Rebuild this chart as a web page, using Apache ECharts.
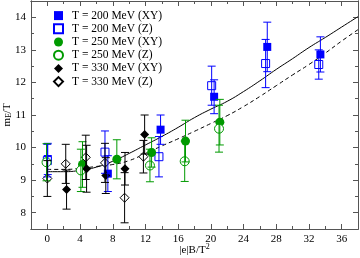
<!DOCTYPE html>
<html><head><meta charset="utf-8">
<script src="https://cdn.jsdelivr.net/npm/echarts@6/dist/echarts.min.js"></script>
<style>html,body{margin:0;padding:0;background:#fff}#c{width:360px;height:258px}</style>
</head><body><div id="c"></div>
<script>
// Data: [x = |e|B/T^2, y = m_E/T, error]
const t200XY = [[0.05,9.65,0.48],[7.4,9.2,0.55],[13.85,10.55,0.45],[20.4,11.56,0.52],[26.9,13.09,0.76],[33.4,12.86,0.54]];
const t200Z  = [[0.0,9.6,0.5],[7.05,9.86,0.65],[13.65,9.72,0.62],[20.1,11.9,0.6],[26.7,12.58,0.74],[33.2,12.55,0.45]];
const t250XY = [[4.3,9.48,0.7],[8.5,9.64,0.6],[12.75,9.85,0.45],[16.9,10.2,0.64],[21.1,10.78,0.7]];
const t250Z  = [[-0.1,9.55,0.57],[4.1,9.3,0.65],[12.55,9.45,0.5],[16.8,9.58,0.62],[21.0,10.58,0.72]];
const t330XY = [[2.35,8.71,0.6],[4.8,9.35,0.72],[7.15,9.14,0.55],[9.5,9.35,0.5],[11.9,10.4,0.6]];
const t330Z  = [[0.0,9.05,0.55],[2.25,9.5,0.6],[4.7,9.7,0.68],[7.05,9.53,0.6],[9.45,8.46,0.77],[11.75,9.72,0.5]];
// Fit curves
const curveX      = [0,2,4,6,8,10,12,14,16,18,20,22,24,26,28,30,32,34,36,38];
const solidCurveY = [9.26,9.26,9.3,9.4,9.58,9.82,10.08,10.34,10.62,10.92,11.18,11.42,11.72,12.05,12.4,12.73,13.07,13.38,13.7,14.02];
const dashCurveY  = [9.33,9.33,9.36,9.42,9.48,9.6,9.82,10.05,10.27,10.5,10.74,10.98,11.26,11.57,11.9,12.23,12.55,12.9,13.27,13.62];
// Ticks
const xTickLabels = [0,4,8,12,16,20,24,28,32,36];
const xMinorTicks = [2,6,10,14,18,22,26,30,34];
const yTickLabels = [8,9,10,11,12,13,14];
const yMinorTicks = [8.5,9.5,10.5,11.5,12.5,13.5];
const names = ['T = 200 MeV (XY)','T = 200 MeV (Z)','T = 250 MeV (XY)','T = 250 MeV (Z)','T = 330 MeV (XY)','T = 330 MeV (Z)'];

const FONT = '"Liberation Serif", "Times New Roman", serif';
const AX = '#555';
const BLUE = '#0000ff', GREEN = '#009a00', BLACK = '#000000';

function errSeries(data, color){
  return {
    type:'custom', data:data, xAxisIndex:0, yAxisIndex:0, z:4, silent:true,
    encode:{x:0,y:1},
    renderItem:function(params, api){
      const x=api.value(0), y=api.value(1), e=api.value(2);
      const t=api.coord([x,y+e]), b=api.coord([x,y-e]);
      const hw=4;
      const st={stroke:color,lineWidth:1};
      return {type:'group',children:[
        {type:'line',shape:{x1:t[0],y1:t[1],x2:b[0],y2:b[1]},style:st},
        {type:'line',shape:{x1:t[0]-hw,y1:t[1],x2:t[0]+hw,y2:t[1]},style:st},
        {type:'line',shape:{x1:b[0]-hw,y1:b[1],x2:b[0]+hw,y2:b[1]},style:st}
      ]};
    }
  };
}
function scat(name, data, symbol, color, size, open){
  return {
    type:'scatter', name:name, data:data.map(d=>[d[0],d[1]]), xAxisIndex:0, yAxisIndex:0,
    symbol:symbol, symbolSize:size, z:3,
    itemStyle: open ? {color:'#ffffff', borderColor:color, borderWidth:1, opacity:1} : {color:color, opacity:1},
    emphasis:{disabled:true}
  };
}
function xAx(pos, vals, len, labels){
  return {type:'value', min:-2, max:38, interval:2, position:pos, gridIndex:0,
    axisLine:{show:true, onZero:false, lineStyle:{color:AX,width:1}},
    axisTick:{show:true, inside:true, length:len, customValues:vals, lineStyle:{color:AX}},
    axisLabel:{show:labels, customValues:vals, color:'#000', fontFamily:FONT, fontSize:11, margin:5},
    splitLine:{show:false}, minorTick:{show:false}};
}
function yAx(pos, vals, len, labels){
  return {type:'value', min:7.5, max:14.5, interval:0.5, position:pos, gridIndex:0,
    axisLine:{show:true, onZero:false, lineStyle:{color:AX,width:1}},
    axisTick:{show:true, inside:true, length:len, customValues:vals, lineStyle:{color:AX}},
    axisLabel:{show:labels, customValues:vals, color:'#000', fontFamily:FONT, fontSize:11, margin:5},
    splitLine:{show:false}, minorTick:{show:false}};
}
const xMain = xAx('bottom', xTickLabels, 5, true);
xMain.name = '{a||e|B/T}{s|2}';
xMain.nameLocation = 'middle';
xMain.nameGap = 14;
xMain.nameMoveOverlap = false;
xMain.nameTextStyle = {color:'#000', fontFamily:FONT, fontSize:11, rich:{
  a:{fontFamily:FONT,fontSize:11,color:'#000'},
  s:{fontFamily:FONT,fontSize:8,color:'#000',verticalAlign:'top',padding:[0,0,6,0]}}};
const yMain = yAx('left', yTickLabels, 5, true);
yMain.name = '{a|m}{s|E}{a|/T}';
yMain.nameLocation = 'middle';
yMain.nameGap = 18;
yMain.nameMoveOverlap = false;
yMain.nameTextStyle = {color:'#000', fontFamily:FONT, fontSize:11, rich:{
  a:{fontFamily:FONT,fontSize:11,color:'#000'},
  s:{fontFamily:FONT,fontSize:8,color:'#000',verticalAlign:'bottom',padding:[4,0,0,0]}}};

const chart = echarts.init(document.getElementById('c'), null, {renderer:'canvas'});
chart.setOption({
  animation:false,
  backgroundColor:'#fff',
  grid:{left:31, right:2, top:1, bottom:29, containLabel:false, outerBoundsMode:'none'},
  xAxis:[xMain, xAx('bottom', xMinorTicks, 3, false), xAx('top', xTickLabels, 5, false), xAx('top', xMinorTicks, 3, false)],
  yAxis:[yMain, yAx('left', yMinorTicks, 3, false), yAx('right', yTickLabels, 5, false), yAx('right', yMinorTicks, 3, false)],
  legend:{
    data:names, orient:'vertical', left:53, top:9, padding:0, itemGap:0,
    itemWidth:9, itemHeight:9,
    textStyle:{fontFamily:FONT, fontSize:11.5, color:'#000', lineHeight:13.2, padding:[0,0,0,4]},
    selectedMode:false
  },
  series:[
    {type:'line', data:curveX.map((x,i)=>[x,solidCurveY[i]]), smooth:0.5, symbol:'none', xAxisIndex:0, yAxisIndex:0,
      lineStyle:{color:'#000', width:1}, z:2, silent:true},
    {type:'line', data:curveX.map((x,i)=>[x,dashCurveY[i]]), smooth:0.5, symbol:'none', xAxisIndex:0, yAxisIndex:0,
      lineStyle:{color:'#000', width:1, type:[4,3]}, z:2, silent:true},
    scat(names[0], t200XY, 'rect', BLUE, 8, false),
    scat(names[1], t200Z, 'rect', BLUE, 8, true),
    scat(names[2], t250XY, 'circle', GREEN, 9, false),
    scat(names[3], t250Z, 'circle', GREEN, 9, true),
    scat(names[4], t330XY, 'diamond', BLACK, 9, false),
    scat(names[5], t330Z, 'diamond', BLACK, 9, true),
    errSeries(t200XY, BLUE), errSeries(t200Z, BLUE),
    errSeries(t250XY, GREEN), errSeries(t250Z, GREEN),
    errSeries(t330XY, BLACK), errSeries(t330Z, BLACK)
  ]
});
</script></body></html>
